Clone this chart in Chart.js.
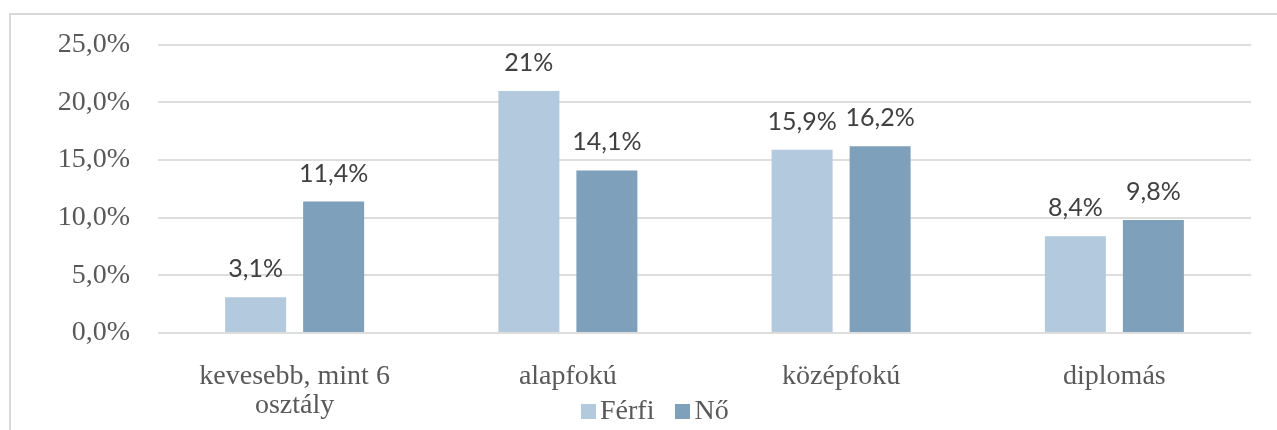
<!DOCTYPE html>
<html>
<head>
<meta charset="utf-8">
<script src="https://cdn.jsdelivr.net/npm/chart.js@4"></script>
<style>
  html, body { margin: 0; padding: 0; background: #fff; overflow: hidden; }
  #wrap { position: relative; width: 1277px; height: 430px; }
  #frame { position: absolute; left: 9px; top: 13px; width: 1400px; height: 500px; border: 2px solid #d9d9d9; }
  #chart { position: absolute; left: 0; top: 0; }
  #legend { position: absolute; left: 581px; top: 396px; font: 28px 'Liberation Serif', serif; line-height: 28px; color: #595959; white-space: nowrap; }
  #legend .box { display: inline-block; width: 15px; height: 15px; margin-right: 4px; }
  #legend .item { margin-right: 21px; }
</style>
</head>
<body>
<div id="wrap">
  <div id="frame"></div>
  <canvas id="chart" width="1277" height="430"></canvas>
  <div id="legend"></div>
</div>
<script>
// Chart data
const categories = [['kevesebb, mint 6', 'osztály'], 'alapfokú', 'középfokú', 'diplomás'];
const seriesNames = ['Férfi', 'Nő'];
const ferfiValues = [3.1, 21, 15.9, 8.4];
const noValues = [11.4, 14.1, 16.2, 9.8];
const seriesColors = ['#b3c9dd', '#7fa0ba'];
const yTicks = { min: 0, max: 25, step: 5 };

const serif = "'Liberation Serif', 'Times New Roman', serif";

// draws the value above each bar
const barLabels = {
  id: 'barLabels',
  afterDatasetsDraw(chart) {
    const ctx = chart.ctx;
    ctx.save();
    ctx.font = "25px Lato, 'Noto Sans', sans-serif";
    ctx.fillStyle = '#404040';
    ctx.textAlign = 'center';
    ctx.textBaseline = 'alphabetic';
    chart.data.datasets.forEach((ds, i) => {
      chart.getDatasetMeta(i).data.forEach((bar, j) => {
        const txt = String(ds.data[j]).replace('.', ',') + '%';
        ctx.fillText(txt, bar.x, bar.y - 20);
      });
    });
    ctx.restore();
  }
};

const ctx = document.getElementById('chart').getContext('2d');
const chart = new Chart(ctx, {
  type: 'bar',
  data: {
    labels: categories,
    datasets: [
      { label: seriesNames[0], data: ferfiValues, backgroundColor: seriesColors[0] },
      { label: seriesNames[1], data: noValues, backgroundColor: seriesColors[1] }
    ]
  },
  options: {
    responsive: false,
    animation: false,
    layout: { padding: { top: 43, right: 26, bottom: 0, left: 0 } },
    datasets: { bar: { categoryPercentage: 0.571, barPercentage: 0.782 } },
    plugins: {
      legend: { display: false },
      tooltip: { enabled: false }
    },
    scales: {
      x: {
        grid: { display: false },
        border: { display: false },
        ticks: {
          color: '#595959',
          padding: 21,
          font: { family: serif, size: 28, lineHeight: 1.05 },
          maxRotation: 0
        },
        afterFit(scale) { scale.height = 97; }
      },
      y: {
        min: yTicks.min,
        max: yTicks.max,
        border: { display: false },
        grid: { color: '#dddddd', lineWidth: 2, drawTicks: false },
        ticks: {
          stepSize: yTicks.step,
          color: '#595959',
          padding: 28,
          font: { family: serif, size: 28 },
          callback: v => v.toFixed(1).replace('.', ',') + '%'
        },
        afterFit(scale) { scale.width = 158; }
      }
    }
  },
  plugins: [barLabels]
});

// HTML legend built from the datasets
const legend = document.getElementById('legend');
chart.data.datasets.forEach((ds, i) => {
  const item = document.createElement('span');
  if (i < chart.data.datasets.length - 1) item.className = 'item';
  item.innerHTML = '<span class="box" style="background:' + ds.backgroundColor + '"></span>' + ds.label;
  legend.appendChild(item);
});
</script>
</body>
</html>
